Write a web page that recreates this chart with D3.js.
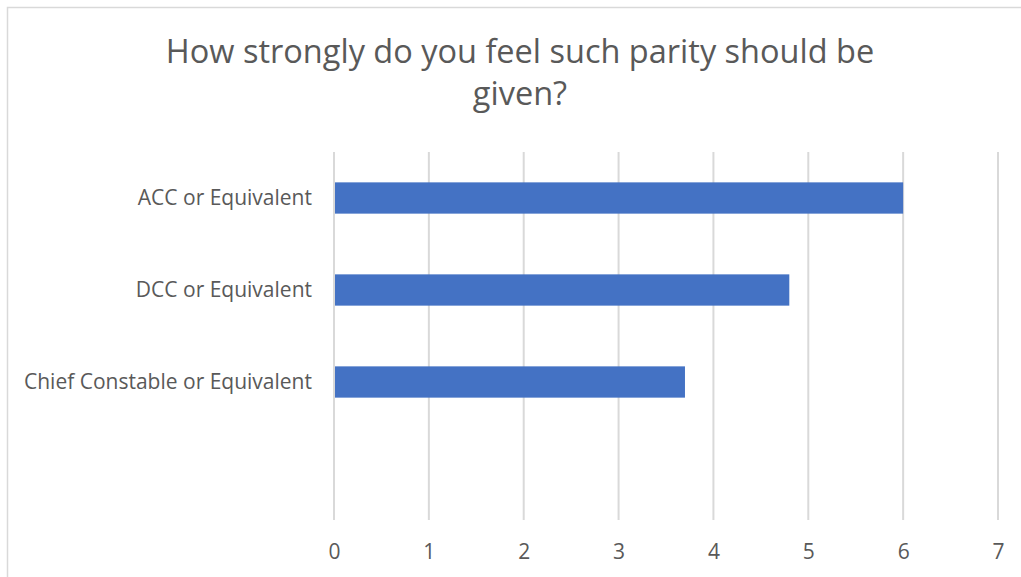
<!DOCTYPE html>
<html>
<head>
<meta charset="utf-8">
<script src="https://cdn.jsdelivr.net/npm/d3@7"></script>
<style>
  html, body { margin: 0; padding: 0; background: #fff; }
  svg { display: block; }
  text { font-family: "Open Sans", "Noto Sans", sans-serif; fill: #595959; }
</style>
</head>
<body>
<svg id="chart" width="1021" height="577"></svg>
<script>
// Survey responses: strength of feeling per rank (blank last row kept as spacing)
const categories = ["ACC or Equivalent", "DCC or Equivalent", "Chief Constable or Equivalent", ""];
const values = [6, 4.8, 3.7, null];
const xTicks = [0, 1, 2, 3, 4, 5, 6, 7];
const titleLines = ["How strongly do you feel such parity should be", "given?"];

const svg = d3.select("#chart");
const W = 1021, H = 577;

// chart frame
svg.append("rect")
  .attr("x", 7.5).attr("y", 7.5)
  .attr("width", W + 10).attr("height", H + 10)
  .attr("fill", "#fff").attr("stroke", "#d9d9d9").attr("stroke-width", 1.5);

const plot = { left: 334, right: 998, top: 152, bottom: 520 };

const x = d3.scaleLinear().domain([0, 7]).range([plot.left, plot.right]);
const y = d3.scaleBand().domain(categories).range([plot.top, plot.bottom]).paddingInner(0.66).paddingOuter(0.33);

// vertical gridlines
svg.append("g")
  .selectAll("line")
  .data(xTicks)
  .join("line")
  .attr("x1", d => x(d)).attr("x2", d => x(d))
  .attr("y1", plot.top).attr("y2", plot.bottom)
  .attr("stroke", "#d9d9d9").attr("stroke-width", 2);

// bars
svg.append("g")
  .selectAll("rect")
  .data(categories.map((c, i) => ({ c, v: values[i] })).filter(d => d.v != null))
  .join("rect")
  .attr("x", x(0) + 1)
  .attr("y", d => y(d.c))
  .attr("width", d => x(d.v) - x(0) - 1)
  .attr("height", y.bandwidth())
  .attr("fill", "#4472c4");

// x axis labels
const xAxis = d3.axisBottom(x).tickValues(xTicks).tickSize(0).tickPadding(24).tickFormat(d3.format("d"));
const gx = svg.append("g").attr("transform", `translate(0,${plot.bottom})`).call(xAxis);
gx.select(".domain").remove();
gx.selectAll("text").attr("font-size", 21).attr("fill", "#595959")
  .style("font-family", '"Open Sans", "Noto Sans", sans-serif');

// category labels
const yAxis = d3.axisLeft(y).tickSize(0).tickPadding(22);
const gy = svg.append("g").attr("transform", `translate(${plot.left},0)`).call(yAxis);
gy.select(".domain").remove();
gy.selectAll("text").attr("font-size", 21).attr("fill", "#595959")
  .style("font-family", '"Open Sans", "Noto Sans", sans-serif');

// title
svg.append("g")
  .selectAll("text")
  .data(titleLines)
  .join("text")
  .attr("x", 520)
  .attr("y", (d, i) => 63 + i * 42)
  .attr("text-anchor", "middle")
  .attr("font-size", 32.5)
  .text(d => d);
</script>
</body>
</html>
